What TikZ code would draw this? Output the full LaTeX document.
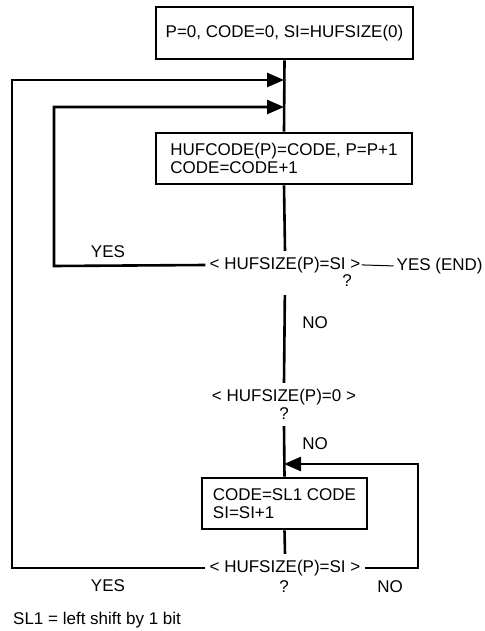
\documentclass[tikz,border=0pt]{standalone}
\usepackage{fontspec}
\setmainfont{Liberation Sans}
\usetikzlibrary{arrows.meta}
\begin{document}
\begin{tikzpicture}[x=1pt,y=-1pt,
  every node/.style={font=\fontsize{17}{18}\selectfont},
  box/.style={draw,line width=2.6pt,minimum height=51pt,inner sep=0pt,align=left},
  decision/.style={inner xsep=4pt,inner ysep=6pt},
  lbl/.style={inner sep=0pt},
  conn/.style={line width=2.6pt},
  thinconn/.style={line width=1pt},
  arr/.style={line width=2.6pt,-{Triangle[length=17pt,width=14pt]}}]
\useasboundingbox (0,0) rectangle (484,631);
% boxes
\node[box,minimum width=257pt,minimum height=52pt,align=center] (b1) at (284.5,33) {P=0, CODE=0, SI=HUFSIZE(0)};
\node[box,minimum width=256pt] (b2) at (284,158.5) {HUFCODE(P)=CODE, P=P+1\\CODE=CODE+1};
\node[box,minimum width=165pt] (b3) at (284.5,503.5) {CODE=SL1 CODE\\SI=SI+1};
% decisions
\node[decision] (d1) at (285,265) {< HUFSIZE(P)=SI >};
\node[lbl] (q1) at (347,281) {?};
\node[decision] (d2) at (284,397) {< HUFSIZE(P)=0 >};
\node[lbl,inner ysep=6pt] (q2) at (284,414) {?};
\node[decision] (d3) at (285,568) {< HUFSIZE(P)=SI >};
\node[lbl] (q3) at (284,587) {?};
% labels
\node[lbl,anchor=west] (yend) at (396.5,266) {YES (END)};
\node[lbl] (yes1) at (108,252) {YES};
\node[lbl] (no1) at (315,323) {NO};
\node[lbl] (no2) at (315,444) {NO};
\node[lbl] (yes2) at (108,586) {YES};
\node[lbl] (no3) at (390,587) {NO};
\node[lbl,anchor=west] (foot) at (13,620) {SL1 = left shift by 1 bit};
% coordinates
\coordinate (j1) at (284,80);
\coordinate (j2) at (284,107);
\coordinate (j3) at (284,464);
\coordinate (c1) at (12,568);
\coordinate (c2) at (54,266);
\coordinate (c3) at (418,568);
% connectors
\draw[conn] (b1.south) -- (b2.north);
\draw[conn] (b2.south) -- (d1.north);
\draw[conn,shorten <=16pt] (d1.south) -- (d2.north);
\draw[conn] (q2.south) -- (b3.north);
\draw[conn] (b3.south) -- (d3.north);
\draw[thinconn,shorten <=-3pt,shorten >=3pt] (d1.east) -- (yend.west);
\draw[arr] (d1.west) -- (c2) |- (j2);
\draw[arr] (d3.west) -- (c1) |- (j1);
\draw[arr] (d3.east) -- (c3) |- (j3);
\end{tikzpicture}
\end{document}
